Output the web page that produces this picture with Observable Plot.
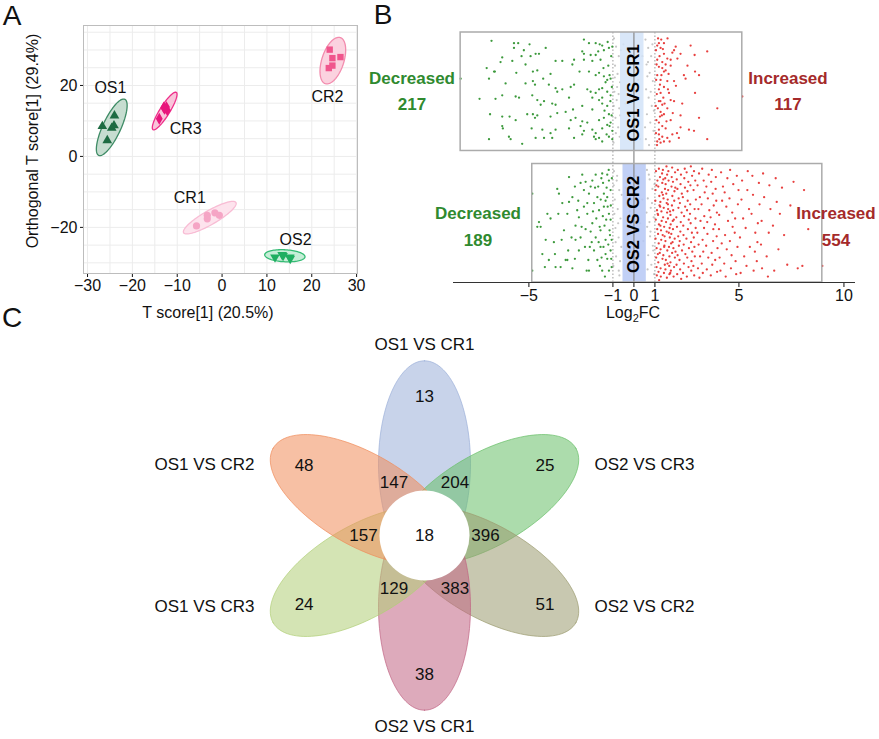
<!DOCTYPE html>
<html><head><meta charset="utf-8">
<script src="https://cdn.jsdelivr.net/npm/d3@7"></script>
<script src="https://cdn.jsdelivr.net/npm/@observablehq/plot@0.6"></script>
<style>
body{margin:0;background:#fff;font-family:Arial,"Liberation Sans",sans-serif;}
#root{position:relative;width:879px;height:739px;overflow:hidden;background:#fff;}
.pl{position:absolute;}
.lbl{position:absolute;transform:translate(-50%,-50%);white-space:nowrap;line-height:1;color:#111;}
</style></head><body><div id="root"></div>
<script>
// ---------------- Panel A data (OPLS-DA scores) ----------------
const groupsA = ["OS1","CR3","CR2","CR1","OS2"];
const sampleGroup = ["OS1","OS1","OS1","OS1","OS1","CR3","CR3","CR3","CR3","CR3","CR2","CR2","CR2","CR2","CR2","CR1","CR1","CR1","CR1","CR1","OS2","OS2","OS2","OS2","OS2"];
const tScore = [-24.0,-26.7,-24.6,-24.1,-25.6, -13.0,-12.4,-12.2,-14.0,-12.8, 24.0,24.6,26.4,24.6,23.8, -5.7,-3.3,-3.3,-1.6,-0.6, 11.8,13.4,13.6,15.1,15.2];
const orthoScore = [11.5,8.5,8.0,8.7,4.5, 13.8,13.9,13.0,10.6,13.4, 30.1,27.7,28.0,25.6,24.9, -19.6,-17.6,-16.6,-15.9,-16.6, -28.4,-27.7,-28.0,-28.4,-28.8];
// confidence ellipses: centre (data), semi-axes (in T-score units), angle (deg)
const ellCx = [-24.6,-12.8,24.7,-2.74,14.0];
const ellCy = [8.2,12.8,27.0,-17.26,-28.0];
const ellA = [6.9,4.9,5.4,6.74,4.5];
const ellB = [2.0,1.1,2.45,1.56,1.34];
const ellAngle = [65,58,72,30,-3];
const labelT = [-24.9,-8.1,23.5,-7.2,16.4];
const labelO = [19.3,7.9,16.7,-11.6,-23.5];
const xTicksA = [-30,-20,-10,0,10,20,30];
const yTicksA = [-20,0,20];

// ---------------- Panel B data (log2 fold change) ----------------
const comparisonsB = ["OS1 VS CR1","OS2 VS CR2"];
const decreasedCounts = [217,189];
const increasedCounts = [117,554];
const xTicksB = [-5,-1,0,1,5,10];
const os1cr1Down = `-8.25 .39, -6.78 .07, -5.71 .09, -5.51 .09, -4.97 .10, -4.20 .13, -2.38 .06, -2.14 .09, -1.82 .09, -1.63 .10, -1.51 .11,
-5.71 .13, -5.24 .15, -4.68 .18, -4.52 .18, -5.35 .20, -4.92 .20, -6.27 .21, -6.35 .25, -5.79 .24, -5.16 .27,
-6.62 .33, -7.01 .30, -6.90 .39, -6.66 .33, -5.60 .34, -4.81 .33, -4.60 .32, -3.97 .35, -3.73 .24, -3.41 .24,
-2.46 .16, -2.38 .18, -2.06 .19, -1.82 .19, -1.70 .16, -1.43 .15, -1.19 .13, -1.03 .12, -1.59 .23, -1.98 .24, -2.38 .23,
-2.85 .23, -2.93 .27, -2.59 .33, -2.14 .33, -1.82 .36, -1.66 .34, -1.43 .37, -1.16 .36, -1.11 .39, -1.27 .40,
-4.32 .39, -4.81 .41, -5.16 .43, -6.11 .43, -4.71 .44, -3.73 .47, -3.41 .48, -3.65 .50, -4.05 .44, -3.01 .46,
-2.85 .44, -2.22 .48, -2.06 .50, -1.82 .51, -1.66 .48, -1.51 .47, -1.27 .50, -1.11 .53, -1.51 .55, -1.66 .57, -1.98 .55,
-7.35 .56, -6.59 .56, -6.27 .53, -5.63 .54, -5.47 .55, -4.84 .53, -4.60 .57, -4.28 .58, -4.44 .61, -3.89 .60, -3.73 .61, -3.09 .55, -2.90 .65, -2.46 .62, -1.98 .65, -1.51 .60, -1.27 .62, -1.19 .69,
-6.85 .69, -6.27 .71, -5.92 .71, -5.63 .74, -5.08 .69, -4.81 .69, -4.71 .72, -4.60 .70, -3.97 .71, -3.65 .68, -3.25 .67, -3.01 .74, -2.78 .72, -2.46 .75, -2.22 .76, -1.66 .74, -1.43 .72, -1.11 .76,
-6.27 .79, -6.24 .81, -4.87 .81, -4.36 .82, -3.97 .85, -3.73 .82, -3.09 .81, -2.54 .79, -2.38 .83, -1.98 .82, -1.82 .85, -1.51 .81, -1.27 .78, -1.16 .79, -1.03 .83,
-6.90 .90, -5.95 .88, -5.87 .90, -5.32 .94, -4.68 .89, -4.28 .89, -3.89 .89, -2.85 .89, -2.46 .86, -1.90 .88, -1.82 .90, -1.66 .89, -1.51 .92, -1.19 .88, -1.03 .90,
-1.08 .20, -1.22 .28, -1.35 .42, -1.05 .46, -1.40 .66, -1.12 .58, -1.30 .86, -1.06 .70, -1.45 .30, -1.25 .08`;
const os1cr1Up = `1.30 .06, 1.19 .09, 1.11 .11, 1.99 .12, 1.91 .15, 2.70 .11, 2.22 .18, 1.83 .17, 1.43 .18, 1.59 .22, 1.75 .23, 1.35 .25, 3.49 .16, 2.89 .19,
1.19 .29, 1.35 .30, 1.43 .33, 1.51 .32, 2.38 .36, 2.46 .39, 2.91 .33, 3.10 .36, 1.11 .36, 1.27 .40, 1.59 .41, 1.91 .41, 1.43 .46, 1.19 .48, 1.27 .51, 1.67 .51,
1.75 .57, 1.91 .58, 2.91 .51, 5.16 .54, 1.19 .58, 1.35 .61, 1.59 .64, 3.97 .64, 1.27 .67, 1.43 .69, 2.22 .70, 3.10 .72, 1.75 .74, 1.19 .76, 1.35 .79, 1.51 .81,
2.22 .80, 2.62 .82, 2.86 .83, 3.49 .90, 1.19 .86, 1.35 .88, 1.59 .89, 1.83 .86, 2.14 .89, 1.11 .92, 1.27 .93, 1.43 .92, 1.19 .82, 1.40 .55, 1.62 .48, 1.24 .44,
1.14 .64, 1.24 .71, 1.51 .27, 1.75 .28, 2.07 .22, 1.11 .23, 1.27 .13, 1.43 .09, 1.05 .15, 1.08 .27, 1.06 .40, 1.09 .52, 1.04 .62, 1.07 .74, 1.05 .85, 1.10 .95,
1.22 .20, 1.31 .36, 1.26 .58, 1.33 .70, 1.21 .90, 1.38 .14, 1.46 .60, 1.55 .75, 1.65 .35, 1.70 .92, 1.85 .68, 2.00 .45, 2.30 .60, 2.55 .28, 2.05 .85, 1.15 .05, 1.60 .05`;
const os1cr1NS = `-0.95 .05, -0.85 .12, -0.72 .20, -0.90 .28, -0.78 .35, -0.66 .42, -0.93 .50, -0.82 .57, -0.70 .64, -0.88 .72, -0.75 .80, -0.68 .88, -0.97 .93, -0.80 .46, -0.62 .15, -0.91 .38, -0.73 .52, -0.86 .85, -0.65 .70, -0.96 .62,
0.55 .06, 0.68 .13, 0.82 .20, 0.60 .27, 0.75 .34, 0.90 .41, 0.58 .48, 0.70 .55, 0.85 .62, 0.62 .69, 0.78 .76, 0.93 .83, 0.57 .90, 0.72 .95, 0.88 .10, 0.64 .37, 0.80 .50, 0.95 .66, 0.53 .80, 0.67 .25,
-0.50 .10, -0.30 .30, -0.10 .50, 0.10 .70, 0.30 .90, 0.40 .20, -0.40 .60, 0.20 .40, -0.20 .80, 0.00 .15`;
const os2cr2Down = `-4.84 .25, -4.84 .90, -4.60 .53, -4.52 .49, -3.81 .66, -3.65 .21, -3.57 .25, -3.49 .87, -3.25 .81, -3.17 .81, -3.09 .11, -3.09 .32, -2.93 .28, -2.78 .64, -2.81 .80,
-2.70 .39, -2.62 .45, -2.54 .62, -2.46 .09, -2.38 .36, -2.30 .15, -2.22 .42, -2.14 .25, -2.06 .57, -1.98 .14, -1.90 .33, -1.90 .73, -1.82 .09, -1.74 .81, -1.70 .19,
-1.66 .39, -1.59 .56, -1.54 .79, -1.51 .08, -1.47 .16, -1.43 .25, -1.35 .31, -1.35 .64, -1.32 .47, -1.27 .09, -1.27 .80, -1.19 .14, -1.19 .42, -1.16 .56, -1.11 .73,
-1.06 .87, -1.63 .53, -1.79 .46, -2.01 .66, -2.17 .81, -2.33 .70, -2.49 .53, -2.65 .31, -2.81 .19, -2.97 .62, -3.17 .42, -3.33 .56, -3.44 .64, -3.60 .42, -3.73 .87,
-2.93 .88, -2.14 .90, -1.51 .90, -1.19 .90, -1.35 .76, -1.59 .70, -1.82 .62, -1.98 .50, -2.22 .33, -2.38 .22, -2.54 .16, -1.43 .36, -1.27 .28, -1.11 .22, -1.11 .47,
-1.06 .64, -1.74 .28, -2.06 .19, -2.30 .55, -2.62 .73, -2.78 .52, -3.13 .73, -3.41 .33, -3.76 .76, -3.97 .46, -4.12 .42, -4.20 .64, -4.24 .87, -4.36 .76, -4.44 .53, -4.05 .81,
-1.05 .12, -1.10 .35, -1.14 .60, -1.22 .68, -1.30 .20, -1.40 .52, -1.48 .44, -1.55 .12, -1.62 .86, -1.68 .66, -1.45 .70, -1.25 .36, -1.08 .80, -1.20 .05, -1.38 .95,
-1.85 .20, -1.95 .40, -2.10 .70, -2.25 .90, -1.58 .30`;
const os2cr2Up = `1.02 .31, 1.08 .87, 1.05 .06, 1.11 .55, 1.03 .22, 1.09 .94, 1.04 .47, 1.12 .14, 1.06 .79, 1.10 .39, 1.03 .63, 1.08 .71,
1.15 .59, 1.19 .04, 1.16 .83, 1.22 .35, 1.18 .67, 1.24 .11, 1.17 .91, 1.21 .27, 1.15 .43, 1.23 .75, 1.19 .51, 1.16 .19,
1.27 .72, 1.31 .40, 1.28 .95, 1.34 .08, 1.29 .56, 1.33 .24, 1.27 .88, 1.35 .16, 1.30 .64, 1.26 .32, 1.32 .48, 1.36 .80,
1.39 .45, 1.43 .92, 1.40 .13, 1.45 .69, 1.41 .29, 1.47 .85, 1.38 .05, 1.44 .53, 1.42 .37, 1.48 .21, 1.40 .77, 1.46 .61,
1.52 .81, 1.56 .33, 1.50 .65, 1.58 .09, 1.53 .49, 1.57 .96, 1.51 .17, 1.59 .73, 1.54 .25, 1.56 .57, 1.50 .89, 1.58 .41,
1.63 .22, 1.67 .70, 1.62 .46, 1.69 .93, 1.64 .06, 1.70 .54, 1.61 .30, 1.68 .86, 1.65 .14, 1.71 .62, 1.63 .38, 1.69 .78,
1.75 .51, 1.79 .19, 1.74 .83, 1.82 .03, 1.77 .67, 1.81 .35, 1.76 .90, 1.83 .27, 1.78 .59, 1.80 .11, 1.74 .43, 1.82 .75,
1.87 .39, 1.91 .87, 1.86 .15, 1.94 .63, 1.89 .95, 1.93 .23, 1.88 .71, 1.96 .07, 1.90 .47, 1.92 .31, 1.86 .55, 1.95 .79,
1.07 .18, 1.13 .42, 1.25 .36, 1.37 .60, 1.49 .12, 1.60 .84, 1.72 .40, 1.84 .66, 1.97 .20, 1.14 .76, 1.26 .52, 1.38 .26, 1.55 .02, 1.66 .58, 1.73 .92, 1.85 .48, 1.98 .74, 1.20 .98, 1.44 .70, 1.62 .34,
2.02 .45, 2.08 .77, 2.04 .13, 2.11 .61, 2.06 .93, 2.13 .29, 2.03 .85, 2.09 .05, 2.05 .53, 2.12 .37, 2.07 .21, 2.14 .69,
2.18 .65, 2.24 .09, 2.20 .89, 2.27 .41, 2.22 .17, 2.29 .73, 2.19 .33, 2.25 .97, 2.21 .57, 2.28 .25, 2.23 .49, 2.17 .81,
2.33 .28, 2.38 .84, 2.35 .52, 2.42 .04, 2.37 .68, 2.44 .36, 2.34 .92, 2.40 .12, 2.36 .60, 2.43 .20, 2.39 .44, 2.45 .76,
2.50 .63, 2.56 .31, 2.52 .95, 2.59 .15, 2.54 .79, 2.61 .47, 2.51 .07, 2.57 .55, 2.53 .39, 2.60 .87, 2.55 .23, 2.62 .71,
2.67 .42, 2.73 .90, 2.69 .18, 2.76 .58, 2.71 .02, 2.78 .74, 2.68 .34, 2.74 .82, 2.70 .50, 2.77 .10, 2.72 .66,
2.83 .86, 2.89 .38, 2.85 .62, 2.92 .14, 2.87 .94, 2.94 .54, 2.84 .22, 2.90 .78, 2.86 .06, 2.93 .46, 2.88 .70, 2.95 .30,
3.02 .58, 3.10 .08, 3.05 .88, 3.14 .28, 3.08 .68, 3.17 .48, 3.03 .18, 3.12 .96, 3.07 .38, 3.15 .78,
3.22 .34, 3.30 .74, 3.25 .04, 3.34 .54, 3.28 .92, 3.37 .24, 3.23 .84, 3.32 .14, 3.27 .64, 3.35 .44,
3.44 .69, 3.52 .29, 3.47 .89, 3.56 .09, 3.50 .59, 3.59 .39, 3.45 .19, 3.54 .79, 3.49 .49,
3.65 .45, 3.73 .85, 3.68 .15, 3.77 .65, 3.71 .05, 3.80 .35, 3.66 .94, 3.75 .25, 3.70 .75, 3.78 .55,
3.87 .81, 3.95 .41, 3.90 .11, 3.98 .71, 3.92 .31, 3.86 .51, 3.96 .91, 3.89 .21, 3.94 .61,
4.05 .55, 4.15 .07, 4.08 .79, 4.20 .31, 4.12 .90, 4.24 .19, 4.06 .43, 4.18 .67,
4.30 .84, 4.40 .36, 4.34 .60, 4.45 .12, 4.37 .95, 4.48 .48, 4.32 .24, 4.42 .72,
4.55 .29, 4.65 .77, 4.58 .05, 4.70 .53, 4.62 .88, 4.73 .17, 4.57 .65, 4.68 .41,
4.80 .58, 4.90 .10, 4.84 .82, 4.95 .34, 4.87 .93, 4.98 .22, 4.82 .46, 4.93 .70,
5.05 .62, 5.15 .14, 5.08 .92, 5.20 .46, 5.12 .30, 5.25 .78, 5.32 .54, 5.42 .06, 5.36 .86, 5.48 .38, 5.40 .22, 5.52 .70,
5.60 .42, 5.70 .90, 5.64 .10, 5.76 .74, 5.67 .26, 5.78 .58, 5.85 .82, 5.95 .16, 5.88 .66, 5.98 .34, 5.90 .50,
6.05 .68, 6.15 .08, 6.10 .88, 6.20 .28, 6.08 .48, 6.32 .78, 6.45 .18, 6.38 .95, 6.50 .38, 6.42 .58,
6.62 .52, 6.75 .12, 6.68 .90, 6.80 .32, 6.88 .72, 6.95 .42,
7.05 .20, 7.15 .60, 7.30 .85, 7.45 .35, 7.60 .15, 7.80 .88, 8.10 .22, 8.02 .86, 8.30 .55, 8.97 .86`;
const os2cr2NS = `-0.95 .06, -0.82 .14, -0.70 .22, -0.91 .30, -0.77 .38, -0.64 .46, -0.88 .54, -0.73 .62, -0.60 .70, -0.85 .78, -0.98 .86, -0.69 .94, -0.80 .10, -0.93 .42, -0.58 .26, -0.75 .50, -0.87 .66, -0.66 .82, -0.96 .18, -0.72 .90,
0.62 .05, 0.75 .13, 0.88 .21, 0.66 .29, 0.80 .37, 0.94 .45, 0.63 .53, 0.77 .61, 0.90 .69, 0.68 .77, 0.83 .85, 0.96 .93, 0.71 .09, 0.86 .33, 0.60 .41, 0.79 .57, 0.92 .73, 0.65 .89, 0.98 .17, 0.74 .49,
-0.40 .20, -0.20 .40, 0.00 .60, 0.20 .80, 0.40 .30, -0.30 .70, 0.10 .10, 0.30 .50, -0.10 .90, 0.45 .65`;
const thresholdBand = [[-0.64,0.48],[-0.52,0.59]];

// ---------------- Panel C data (Venn flower) ----------------
const setNames = ["OS1 VS CR1","OS2 VS CR3","OS2 VS CR2","OS2 VS CR1","OS1 VS CR3","OS1 VS CR2"];
const uniqueCounts = [13,25,51,38,24,48];
const pairCounts = [204,396,383,129,157,147]; // set i ∩ set i+1
const coreCount = 18;

// ---------------- helpers ----------------
const FONT = 'Arial, "Liberation Sans", sans-serif';
const root = document.getElementById("root");
function place(el, left, top){ el.classList.add("pl"); el.style.left = left+"px"; el.style.top = top+"px"; root.appendChild(el); }
function label(html, x, y, css){ const d=document.createElement("div"); d.className="lbl"; d.innerHTML=html; d.style.left=x+"px"; d.style.top=y+"px"; Object.assign(d.style, css||{}); root.appendChild(d); return d; }
const parsePairs = s => s.split(",").map(p=>p.trim()).filter(Boolean).map(p=>{const [fc,j]=p.split(/\s+/).map(Number); return {fc,j};});

// ================= Panel A =================
{
  const W=370,H=330, mL=83,mR=13,mT=25,mB=57;
  const xDom=[-30.9,30.2], yDom=[-33.0,36.9];
  const pxX=(W-mL-mR)/(xDom[1]-xDom[0]), pxY=(H-mT-mB)/(yDom[1]-yDom[0]);
  const ptColor=["#1d6b42","#e8157c","#f0558c","#f5a5c5","#1fae60"];
  const ellFill=["#c6ddd0","#f9c4da","#fbd2df","#fde3ed","#c6eed7"];
  const ellStroke=["#3f8c66","#ee2f8a","#f38cae","#f8bcd4","#34bb74"];
  const sym=["triangle","diamond","square","circle","triangle"];
  const rot=[0,0,0,0,180];
  const marks=[
    Plot.ruleX(d3.range(-30,31,5),{stroke:"#ececec"}),
    Plot.ruleY(d3.range(-30,36,5),{stroke:"#ececec"}),
    Plot.frame({stroke:"#bdbdbd"})
  ];
  groupsA.forEach((g,i)=>{
    const phi=ellAngle[i]*Math.PI/180, a=ellA[i]*pxX, b=ellB[i]*pxX, pts=[];
    for(let k=0;k<=90;k++){const t=k/90*2*Math.PI;
      const dx=a*Math.cos(t)*Math.cos(phi)-b*Math.sin(t)*Math.sin(phi);
      const dy=a*Math.cos(t)*Math.sin(phi)+b*Math.sin(t)*Math.cos(phi);
      pts.push({x:ellCx[i]+dx/pxX, y:ellCy[i]+dy/pxY});}
    marks.push(Plot.line(pts,{x:"x",y:"y",curve:"linear-closed",fill:ellFill[i],stroke:ellStroke[i],strokeWidth:1.3}));
  });
  const samples=sampleGroup.map((g,i)=>({g,t:tScore[i],o:orthoScore[i]}));
  groupsA.forEach((g,i)=>{
    marks.push(Plot.dot(samples.filter(d=>d.g===g),{x:"t",y:"o",symbol:sym[i],r:3.6,fill:ptColor[i],rotate:rot[i]}));
  });
  marks.push(Plot.text(groupsA.map((g,i)=>({g,x:labelT[i],y:labelO[i]})),{x:"x",y:"y",text:"g",fontSize:16,fill:"#111"}));
  const svg=Plot.plot({width:W,height:H,marginLeft:mL,marginRight:mR,marginTop:mT,marginBottom:mB,
    style:{fontSize:"16px",fontFamily:FONT,color:"#111",background:"transparent"},
    x:{domain:xDom,ticks:xTicksA,tickSize:4,tickPadding:2,label:null},
    y:{domain:yDom,ticks:yTicksA,tickSize:3,tickPadding:3,label:null},
    marks});
  place(svg,0,0);
  label("T score[1] (20.5%)",208,313,{fontSize:"16px"});
  label("Orthogonal T score[1] (29.4%)",33,141,{fontSize:"16px",transform:"translate(-50%,-50%) rotate(-90deg)"});
  label("A",12,16,{fontSize:"28px"});
}

// ================= Panel B =================
{
  const W=439,H=330,mL=13,mR=24,mT=32,mB=48;
  const off=[0,1.11], yMax=2.11;
  const pts=[];
  [[os1cr1NS,os1cr1Down,os1cr1Up],[os2cr2NS,os2cr2Down,os2cr2Up]].forEach((sets,ci)=>{
    ["ns","down","up"].forEach((cat,k)=>parsePairs(sets[k]).forEach(p=>pts.push({ci,cat,fc:p.fc,y:off[ci]+p.j})));
  });
  const boxes=comparisonsB.map((c,ci)=>{const e=d3.extent(pts.filter(d=>d.ci===ci),d=>d.fc);return {c,x1:e[0],x2:e[1],y1:off[ci],y2:off[ci]+1,ty:off[ci]+0.51};});
  const bands=thresholdBand.map((b,ci)=>({x1:b[0],x2:b[1],y1:off[ci],y2:off[ci]+1,f:ci?"#b6c8f5":"#d2e3f8"}));
  const svg=Plot.plot({width:W,height:H,marginLeft:mL,marginRight:mR,marginTop:mT,marginBottom:mB,
    style:{fontSize:"16px",fontFamily:FONT,color:"#111",background:"transparent"},
    x:{domain:[-8.59,10.55],ticks:xTicksB,tickSize:5,tickPadding:2,label:null},
    y:{domain:[0,yMax],reverse:true,axis:null},
    marks:[
      Plot.dot(pts.filter(d=>d.cat==="ns"),{x:"fc",y:"y",r:1.1,fill:"#c6c6c6"}),
      Plot.rect(bands,{x1:"x1",x2:"x2",y1:"y1",y2:"y2",fill:"f",fillOpacity:0.85}),
      Plot.ruleX([-1,1],{y1:0,y2:yMax,stroke:"#9a9a9a",strokeDasharray:"1.5,2"}),
      Plot.ruleX([0],{y1:0,y2:yMax,stroke:"#8a8a8a",strokeWidth:1.2}),
      Plot.dot(pts.filter(d=>d.cat==="down"),{x:"fc",y:"y",r:1.15,fill:"#3d9a3d"}),
      Plot.dot(pts.filter(d=>d.cat==="up"),{x:"fc",y:"y",r:1.15,fill:"#e8403f"}),
      Plot.rect(boxes,{x1:"x1",x2:"x2",y1:"y1",y2:"y2",fill:"none",stroke:"#ababab",strokeWidth:1.5}),
      Plot.ruleY([yMax],{stroke:"#333"}),
      Plot.text(boxes,{x:0,y:"ty",text:"c",rotate:-90,fontSize:16.5,fontWeight:"bold",fill:"#000"})
    ]});
  place(svg,440,0);
  label("B",383,15,{fontSize:"28px"});
  label("Log<sub style='font-size:11px;vertical-align:-4px;line-height:0'>2</sub>FC",633,313,{fontSize:"16px"});
  const G="#2f8a2f", R="#a52a2a";
  const bold={fontSize:"17px",fontWeight:"bold"};
  label("Decreased",412,78,{...bold,color:G}); label(String(decreasedCounts[0]),412,104,{...bold,color:G});
  label("Increased",788,78,{...bold,color:R}); label(String(increasedCounts[0]),788,104,{...bold,color:R});
  label("Decreased",478,213,{...bold,color:G}); label(String(decreasedCounts[1]),478,240,{...bold,color:G});
  label("Increased",836,213,{...bold,color:R}); label(String(increasedCounts[1]),836,240,{...bold,color:R});
}

// ================= Panel C =================
{
  const W=879,H=409, cx=424, cy=205; // flower centre inside this svg
  const petalAngles=[90,30,-30,-90,-150,150];
  const petalColors=["#9bafd9","#68bf68","#9b9b6f","#c16483","#b1ce77","#f08c5a"];
  const aP=103,bP=46,cP=71.7, rCore=45, rUnique=139, rPair=61;
  const marks=[];
  petalAngles.forEach((ang,i)=>{
    const th=ang*Math.PI/180, pts=[];
    for(let k=0;k<=120;k++){const t=k/120*2*Math.PI; const lx=cP+aP*Math.cos(t), ly=bP*Math.sin(t);
      pts.push({x:lx*Math.cos(th)-ly*Math.sin(th), y:lx*Math.sin(th)+ly*Math.cos(th)});}
    marks.push(Plot.line(pts,{x:"x",y:"y",curve:"linear-closed",fill:petalColors[i],fillOpacity:0.55,stroke:petalColors[i],strokeOpacity:0.7,strokeWidth:1}));
  });
  marks.push(Plot.dot([{x:0,y:0}],{x:"x",y:"y",r:rCore,fill:"white"}));
  const uniq=petalAngles.map((ang,i)=>({t:String(uniqueCounts[i]),x:rUnique*Math.cos(ang*Math.PI/180),y:rUnique*Math.sin(ang*Math.PI/180)}));
  const pair=petalAngles.map((ang,i)=>{const m=(ang-30)*Math.PI/180;return {t:String(pairCounts[i]),x:rPair*Math.cos(m),y:rPair*Math.sin(m)};});
  const names=petalAngles.map((ang,i)=>{const c=Math.cos(ang*Math.PI/180), s=Math.sin(ang*Math.PI/180);
    return Math.abs(c)<0.1 ? {t:setNames[i],x:0,y:Math.sign(s)*191} : {t:setNames[i],x:Math.sign(c)*220,y:Math.sign(s)*71};});
  marks.push(Plot.text(uniq,{x:"x",y:"y",text:"t",fontSize:17,fill:"#111"}));
  marks.push(Plot.text(pair,{x:"x",y:"y",text:"t",fontSize:17,fill:"#111"}));
  marks.push(Plot.text([{t:String(coreCount),x:0,y:0}],{x:"x",y:"y",text:"t",fontSize:17,fill:"#111"}));
  marks.push(Plot.text(names,{x:"x",y:"y",text:"t",fontSize:17,fill:"#111"}));
  const svg=Plot.plot({width:W,height:H,margin:0,
    style:{fontFamily:FONT,background:"transparent"},
    x:{domain:[-cx,W-cx],axis:null},
    y:{domain:[-(H-cy),cy],axis:null},
    marks});
  place(svg,0,330);
  label("C",12,318,{fontSize:"28px"});
}
</script></body></html>
